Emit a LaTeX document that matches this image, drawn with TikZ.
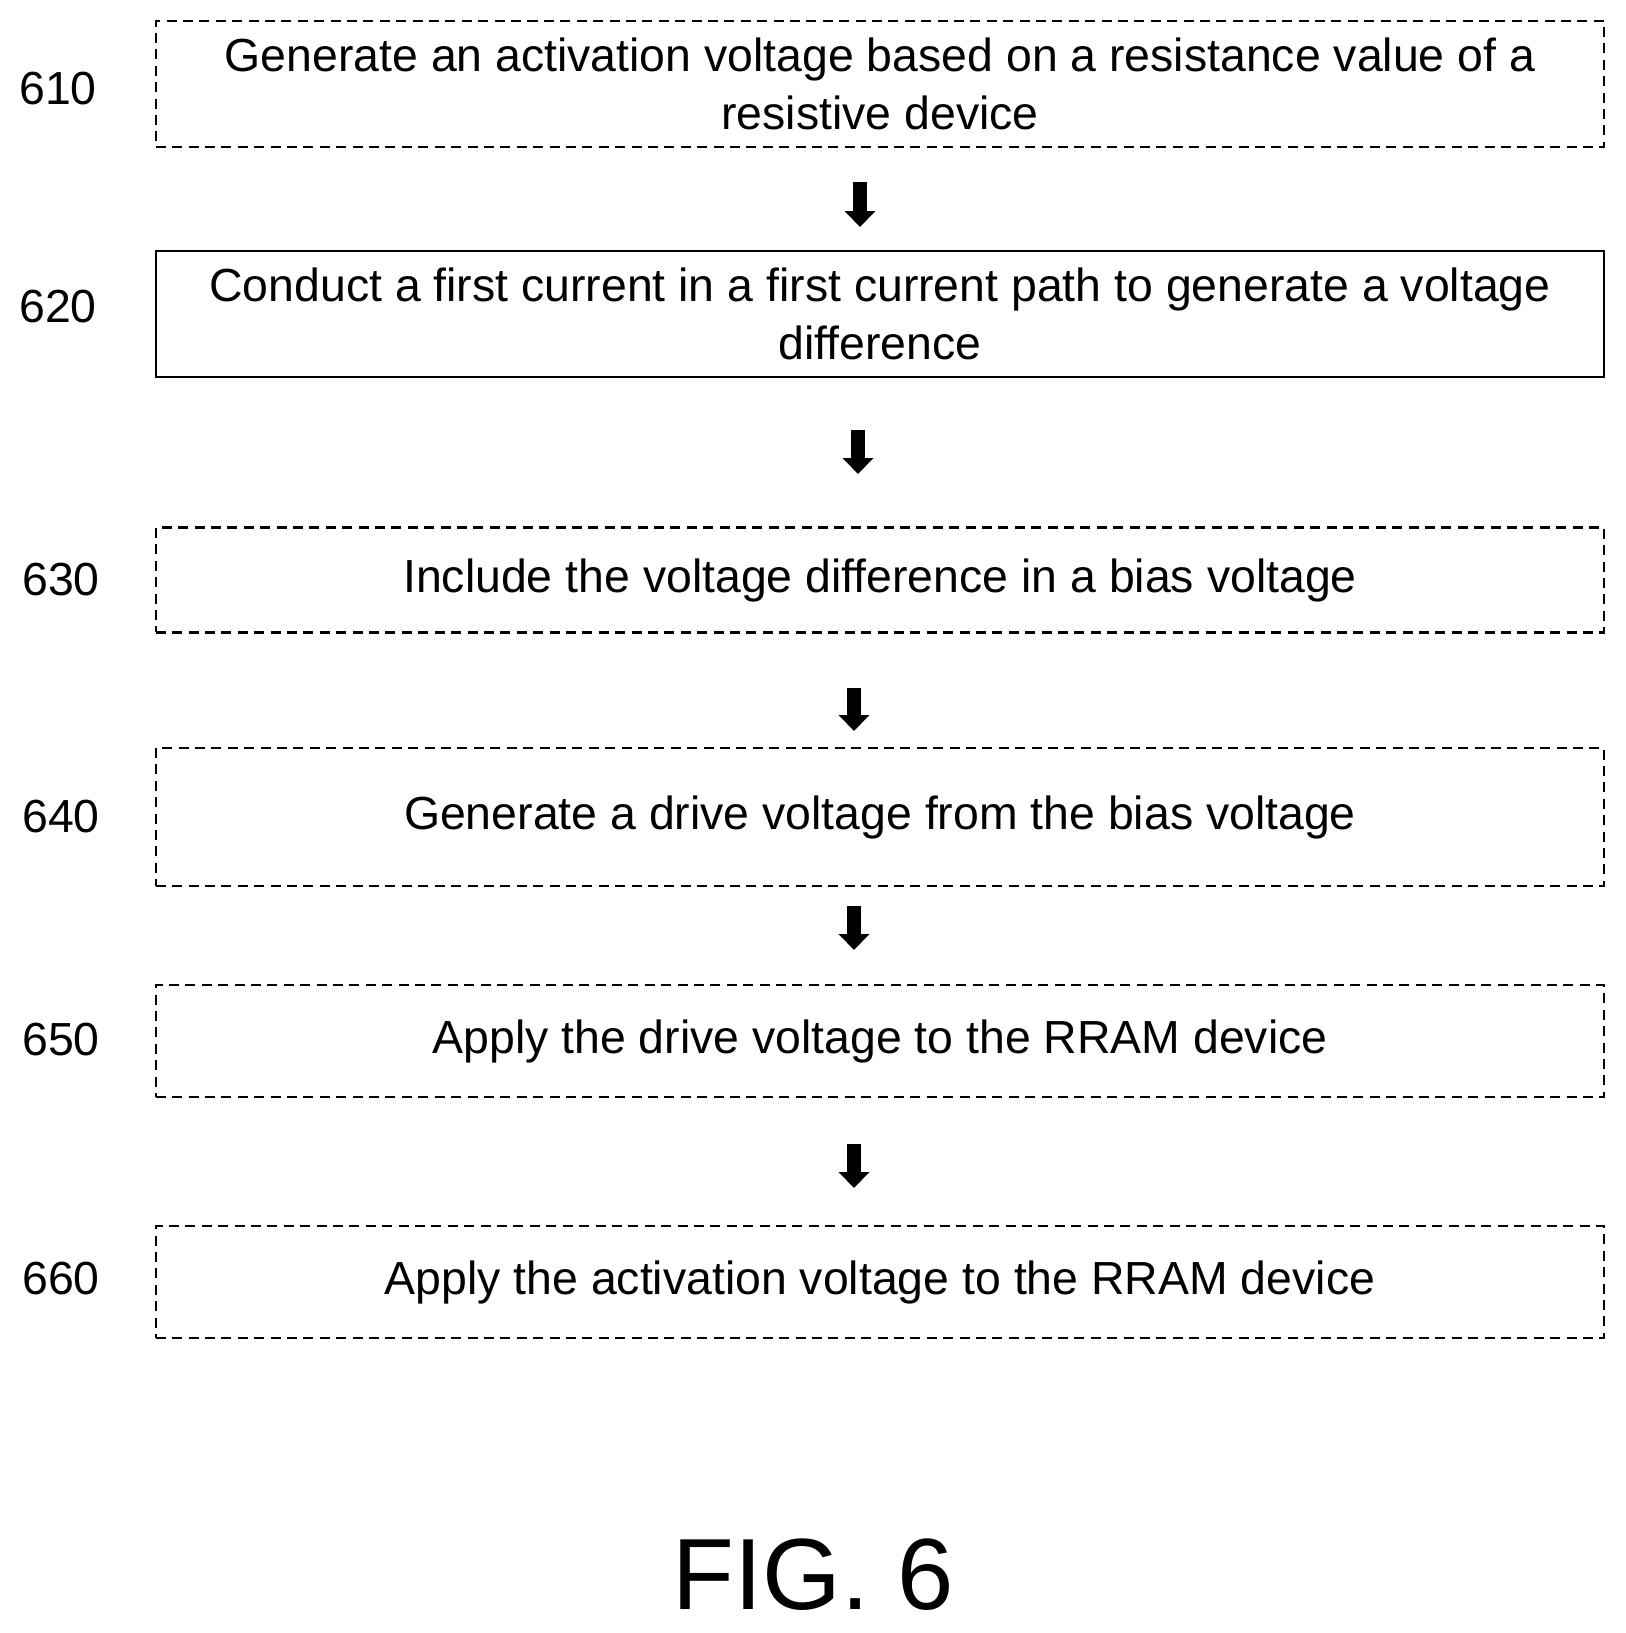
\documentclass[tikz,border=0pt]{standalone}
\usepackage{fontspec}
\setmainfont{Liberation Sans}
\usetikzlibrary{arrows.meta}
\begin{document}
\begin{tikzpicture}[x=0.025cm,y=-0.025cm,
  every node/.style={font=\fontsize{33}{41}\selectfont},
  stepbox/.style={draw,line width=0.06cm,dash pattern=on 0.25cm off 0.16cm,minimum width=36.2cm,align=center,inner sep=0pt},
  solidbox/.style={stepbox,solid},
  num/.style={anchor=center},
  flow/.style={line width=0.33cm,-{Triangle[length=0.4cm,width=0.75cm]}}]
  \useasboundingbox (0,0) rectangle (1626,1633);
  \node[stepbox,minimum height=3.15cm] (610) at (880,84) {Generate an activation voltage based on a resistance value of a\\resistive device};
  \node[solidbox,minimum height=3.15cm] (620) at (880,314) {Conduct a first current in a first current path to generate a voltage\\difference};
  \node[stepbox,minimum height=2.62cm] (630) at (880,580) {Include the voltage difference in a bias voltage};
  \node[stepbox,minimum height=3.45cm] (640) at (880,817) {Generate a drive voltage from the bias voltage};
  \node[stepbox,minimum height=2.8cm] (650) at (880,1041) {Apply the drive voltage to the RRAM device};
  \node[stepbox,minimum height=2.8cm] (660) at (880,1282) {Apply the activation voltage to the RRAM device};
  % step numbers
  \node[num] at (58,89) {610};
  \node[num] at (58,307) {620};
  \node[num] at (61,580) {630};
  \node[num] at (61,817) {640};
  \node[num] at (61,1040) {650};
  \node[num] at (61,1279) {660};
  % arrows between steps
  \coordinate (a1) at (860,182); \coordinate (b1) at (860,227);
  \coordinate (a2) at (858,430); \coordinate (b2) at (858,474);
  \coordinate (a3) at (854,688); \coordinate (b3) at (854,731);
  \coordinate (a4) at (854,906); \coordinate (b4) at (854,950);
  \coordinate (a5) at (854,1144); \coordinate (b5) at (854,1188);
  \foreach \i in {1,...,5}
    \draw[flow] (a\i) -- (b\i);
  \node (fig) at (813,1575) {\fontsize{72}{80}\selectfont FIG. 6};
\end{tikzpicture}
\end{document}
